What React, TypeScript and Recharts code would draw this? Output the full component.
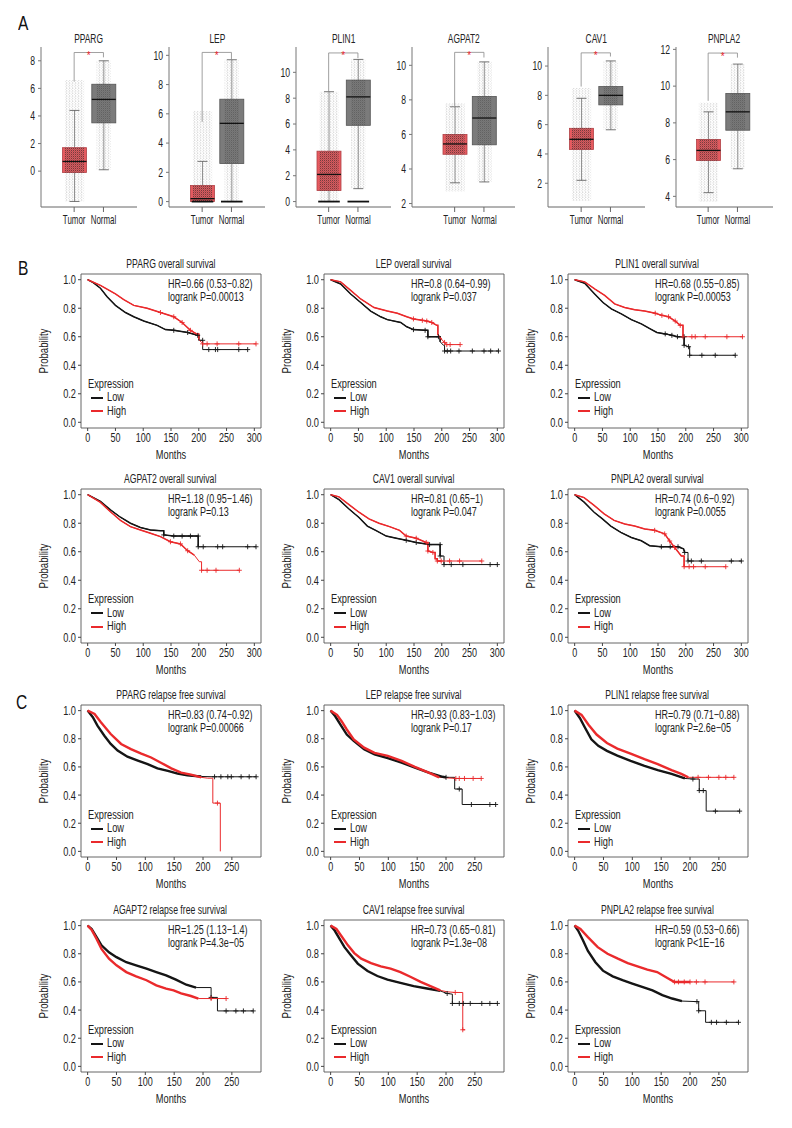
import React from 'react'
import { Bar, ComposedChart, Legend, Line, LineChart, ReferenceArea, ReferenceLine, XAxis, YAxis } from 'recharts'

const FONT = '"Liberation Sans", Arial, sans-serif'
const SX = 0.74 // horizontal squeeze to imitate the condensed face of the original

// ---------- panel A: expression box plots ----------
const boxGenes = ['PPARG', 'LEP', 'PLIN1', 'AGPAT2', 'CAV1', 'PNPLA2']
const boxGroups = ['Tumor', 'Normal']
// [min, q1, median, q3, max]
const tumorStats = [
    [-2.2, -0.1, 0.7, 1.7, 4.4],
    [0, 0, 0.2, 1.1, 2.75],
    [0, 0.85, 2.1, 3.9, 8.5],
    [3.2, 4.85, 5.45, 6.0, 7.6],
    [2.2, 4.3, 5.0, 5.75, 7.8],
    [4.2, 5.95, 6.5, 7.1, 8.6],
]
const normalStats = [
    [0.1, 3.5, 5.2, 6.3, 8.0],
    [0, 2.6, 5.35, 7.0, 9.7],
    [1.0, 5.9, 8.1, 9.4, 11.0],
    [3.25, 5.4, 6.95, 8.2, 10.2],
    [5.65, 7.35, 8.0, 8.6, 10.35],
    [5.5, 7.6, 8.6, 9.6, 11.2],
]
// spread of the jittered samples
const tumorCloud = [[-2.2, 6.6], [0, 6.2], [0, 8.5], [2.7, 7.8], [0.8, 8.5], [3.7, 9.1]]
const normalCloud = [[0.1, 8.0], [0, 9.7], [1.0, 11.0], [3.25, 10.2], [5.65, 10.35], [5.5, 11.2]]
// pile of samples sitting at zero
const zeroPile = [[false, false], [true, true], [true, true], [false, false], [false, false], [false, false]]
const boxDomains = [[-2.6, 9.0], [-0.37, 10.57], [-0.42, 11.96], [1.8, 11.06], [0.38, 11.3], [3.42, 12.13]]
const boxTicks = [[0, 2, 4, 6, 8], [0, 2, 4, 6, 8, 10], [0, 2, 4, 6, 8, 10], [2, 4, 6, 8, 10], [2, 4, 6, 8, 10], [4, 6, 8, 10, 12]]
// significance bracket: [tumor leg bottom, top, normal leg bottom]
const brackets = [[6.5, 8.6, 8.25], [5.45, 10.2, 9.75], [8.5, 11.5, 11.1], [7.65, 10.75, 10.45], [8.6, 10.9, 10.65], [9.2, 11.8, 11.55]]

// layout of the box panels: frame left, frame width, left padding
const boxFrames = [[41, 96, 18.5], [169, 96, 18.5], [296, 95, 18], [412, 103, 28], [548, 97, 18.5], [676, 97, 17.5]]
const BOX_TOP = 47
const BOX_H = 160
const BAND = 29.3

// ---------- panels B / C: Kaplan-Meier curves ----------
// [months, survival, censor mark?]
const ppargOsLow = [[0, 1], [10, 0.98], [23, 0.94], [35, 0.88], [50, 0.82], [68, 0.77], [83, 0.74], [101, 0.71], [125, 0.68], [140, 0.65], [155, 0.645, 1], [180, 0.63, 1], [198, 0.61, 1], [200, 0.61], [200, 0.575], [207, 0.575, 1], [207, 0.51], [218, 0.51, 1], [230, 0.51, 1], [234, 0.51, 1], [272, 0.51, 1], [288, 0.51, 1]]
const ppargOsHigh = [[0, 1], [23, 0.96], [50, 0.9], [65, 0.86], [83, 0.82], [107, 0.8], [131, 0.77, 1], [155, 0.74, 1], [170, 0.7, 1], [185, 0.645, 1], [196, 0.62], [200, 0.62], [200, 0.58], [205, 0.56], [207, 0.55, 1], [215, 0.55, 1], [233, 0.55, 1], [272, 0.55, 1], [303, 0.55, 1]]
const lepOsLow = [[0, 1], [18, 0.97], [36, 0.9], [54, 0.84], [72, 0.78], [90, 0.74], [102, 0.72], [126, 0.7], [137, 0.67], [149, 0.65, 1], [170, 0.645, 1], [175, 0.645], [175, 0.6, 1], [194, 0.6, 1], [197, 0.6], [197, 0.565], [203, 0.54], [205, 0.54], [205, 0.5, 1], [210, 0.5, 1], [216, 0.5, 1], [231, 0.5, 1], [255, 0.5, 1], [276, 0.5, 1], [288, 0.5, 1], [302, 0.5, 1]]
const lepOsHigh = [[0, 1], [18, 0.985], [36, 0.925], [54, 0.865], [78, 0.805], [102, 0.78], [120, 0.765], [137, 0.74], [149, 0.725, 1], [165, 0.715, 1], [173, 0.71, 1], [182, 0.7, 1], [191, 0.68], [193, 0.68], [193, 0.615], [200, 0.58], [205, 0.56, 1], [209, 0.545, 1], [215, 0.545, 1], [233, 0.545, 1]]
const plin1OsLow = [[0, 1], [18, 0.975], [36, 0.9], [51, 0.84], [66, 0.795], [84, 0.76], [102, 0.72], [120, 0.69], [136, 0.655], [148, 0.63], [163, 0.62, 1], [175, 0.61, 1], [185, 0.6, 1], [197, 0.6, 1], [197, 0.54, 1], [205, 0.53, 1], [207, 0.53], [207, 0.47, 1], [229, 0.47, 1], [253, 0.47, 1], [289, 0.47, 1]]
const plin1OsHigh = [[0, 1], [18, 0.985], [36, 0.935], [54, 0.89], [72, 0.83], [90, 0.805], [108, 0.79], [126, 0.78], [145, 0.765, 1], [157, 0.75, 1], [169, 0.74, 1], [181, 0.71, 1], [190, 0.68, 1], [195, 0.68], [195, 0.6, 1], [211, 0.6, 1], [217, 0.6, 1], [235, 0.6, 1], [274, 0.6, 1], [302, 0.6, 1]]
const agpat2OsLow = [[0, 1], [23, 0.953], [41, 0.894], [59, 0.842], [77, 0.8], [95, 0.77], [113, 0.753], [131, 0.748], [137, 0.748], [137, 0.718, 1], [155, 0.71, 1], [170, 0.71, 1], [185, 0.71, 1], [199, 0.71, 1], [199, 0.635, 1], [208, 0.635, 1], [234, 0.635, 1], [243, 0.635, 1], [288, 0.635, 1], [303, 0.635, 1]]
const agpat2OsHigh = [[0, 1], [23, 0.946], [41, 0.88], [59, 0.82], [77, 0.776], [95, 0.753], [113, 0.73], [131, 0.706], [149, 0.67, 1], [167, 0.655, 1], [180, 0.607, 1], [192, 0.576], [201, 0.53], [205, 0.53], [205, 0.47, 1], [215, 0.47, 1], [231, 0.47, 1], [273, 0.47, 1]]
const cav1OsLow = [[0, 1], [15, 0.965], [33, 0.9], [51, 0.84], [66, 0.78], [81, 0.75], [100, 0.71], [118, 0.695], [136, 0.68, 1], [154, 0.665, 1], [178, 0.65, 1], [197, 0.65, 1], [197, 0.57, 1], [204, 0.57], [204, 0.51, 1], [217, 0.51, 1], [238, 0.51, 1], [287, 0.51, 1], [300, 0.51, 1]]
const cav1OsHigh = [[0, 1], [15, 0.985], [33, 0.93], [51, 0.877], [69, 0.83], [87, 0.8], [106, 0.776], [124, 0.75], [136, 0.71, 1], [154, 0.695, 1], [172, 0.665, 1], [175, 0.665], [175, 0.605, 1], [184, 0.595, 1], [188, 0.595], [188, 0.55], [192, 0.55], [192, 0.535, 1], [199, 0.535, 1], [214, 0.535, 1], [232, 0.535, 1], [272, 0.535, 1]]
const pnpla2OsLow = [[0, 1], [17, 0.948], [35, 0.877], [50, 0.83], [65, 0.78], [83, 0.736], [102, 0.7], [120, 0.677], [135, 0.642], [156, 0.635, 1], [172, 0.635, 1], [186, 0.635, 1], [196, 0.62], [198, 0.595, 1], [204, 0.595], [204, 0.535, 1], [210, 0.535, 1], [228, 0.535, 1], [282, 0.535, 1], [300, 0.535, 1]]
const pnpla2OsHigh = [[0, 1], [17, 0.98], [35, 0.925], [53, 0.866], [71, 0.82], [90, 0.795], [108, 0.78], [126, 0.76], [144, 0.75, 1], [162, 0.725, 1], [171, 0.675, 1], [180, 0.63, 1], [192, 0.57], [197, 0.57], [197, 0.495, 1], [206, 0.495, 1], [214, 0.495, 1], [235, 0.495, 1], [272, 0.495, 1]]

const ppargRfsLow = [[0, 1], [9, 0.953], [17, 0.893], [29, 0.822], [40, 0.763], [52, 0.716], [69, 0.673], [87, 0.645], [104, 0.62], [121, 0.59], [139, 0.572], [156, 0.553], [173, 0.54], [197, 0.532], [220, 0.53, 1], [231, 0.53, 1], [243, 0.53, 1], [249, 0.53, 1], [266, 0.53, 1], [280, 0.53, 1], [292, 0.53, 1]]
const ppargRfsHigh = [[0, 1], [12, 0.976], [23, 0.917], [40, 0.834], [58, 0.763], [75, 0.727], [93, 0.695], [110, 0.667], [127, 0.63], [145, 0.59], [162, 0.56], [179, 0.545], [197, 0.526], [208, 0.52], [217, 0.52], [217, 0.343], [225, 0.343, 1], [230, 0.343], [230, 0]]
const lepRfsLow = [[0, 1], [8, 0.96], [17, 0.9], [28, 0.83], [40, 0.785], [58, 0.725], [76, 0.69], [99, 0.662], [123, 0.63], [146, 0.595], [170, 0.56], [194, 0.53], [200, 0.526, 1], [215, 0.526], [215, 0.443], [223, 0.443, 1], [228, 0.443], [228, 0.333], [244, 0.333, 1], [276, 0.333, 1], [286, 0.333, 1]]
const lepRfsHigh = [[0, 1], [11, 0.97], [19, 0.925], [28, 0.866], [40, 0.796], [58, 0.737], [76, 0.7], [99, 0.678], [123, 0.643], [146, 0.6], [170, 0.56], [188, 0.526], [217, 0.518, 1], [223, 0.518, 1], [232, 0.518, 1], [247, 0.518, 1], [261, 0.518, 1]]
const plin1RfsLow = [[0, 1], [9, 0.948], [18, 0.878], [29, 0.796], [41, 0.75], [56, 0.714], [74, 0.68], [97, 0.643], [121, 0.608], [144, 0.577], [168, 0.55], [191, 0.518], [205, 0.514, 1], [216, 0.514], [216, 0.432, 1], [223, 0.432, 1], [228, 0.432], [228, 0.286], [244, 0.286, 1], [286, 0.286, 1]]
const plin1RfsHigh = [[0, 1], [12, 0.97], [24, 0.9], [38, 0.83], [56, 0.77], [74, 0.73], [97, 0.695], [121, 0.655], [144, 0.62], [168, 0.577], [185, 0.55], [197, 0.526], [214, 0.526, 1], [232, 0.526, 1], [250, 0.526, 1], [262, 0.526, 1], [276, 0.526, 1]]
const agpat2RfsLow = [[0, 1], [7, 0.976], [15.5, 0.918], [24, 0.86], [37, 0.81], [50, 0.776], [67, 0.74], [84, 0.718], [102, 0.694], [119, 0.67], [136, 0.647], [153, 0.616], [171, 0.58], [188, 0.56], [214, 0.56], [214, 0.49, 1], [225, 0.49], [225, 0.394], [240, 0.394, 1], [257, 0.394, 1], [270, 0.394, 1], [287, 0.394, 1]]
const agpat2RfsHigh = [[0, 1], [7, 0.97], [15.5, 0.906], [24, 0.835], [37, 0.765], [50, 0.718], [67, 0.67], [84, 0.64], [102, 0.612], [119, 0.576], [136, 0.553], [149, 0.54], [162, 0.518], [179, 0.5], [192, 0.482], [214, 0.482, 1], [240, 0.482, 1]]
const cav1RfsLow = [[0, 1], [7, 0.965], [15.5, 0.906], [24, 0.847], [35.5, 0.788], [47, 0.73], [64, 0.678], [81, 0.642], [98.5, 0.616], [121, 0.593], [144, 0.57], [167, 0.553], [190, 0.536], [202, 0.518, 1], [211, 0.513], [211, 0.447, 1], [223, 0.447, 1], [230, 0.447, 1], [242, 0.447, 1], [262, 0.447, 1], [276, 0.447, 1], [289, 0.447, 1]]
const cav1RfsHigh = [[0, 1], [10, 0.976], [18, 0.93], [30, 0.86], [41, 0.805], [53, 0.765], [70, 0.734], [87, 0.71], [104, 0.694], [121, 0.67], [139, 0.635], [156, 0.6], [173, 0.57], [190, 0.54], [202, 0.53], [216, 0.525, 1], [229, 0.525], [229, 0.26, 1], [233, 0.26]]
const pnpla2RfsLow = [[0, 1], [6, 0.965], [14.6, 0.894], [23, 0.82], [36, 0.74], [49, 0.68], [66, 0.64], [83, 0.612], [100, 0.588], [117, 0.565], [135, 0.54], [152, 0.506], [169, 0.482], [186, 0.464], [212, 0.46, 1], [215, 0.46], [215, 0.395, 1], [227, 0.395], [227, 0.313], [237, 0.313, 1], [246, 0.313, 1], [263, 0.313, 1], [284, 0.313, 1]]
const pnpla2RfsHigh = [[0, 1], [10, 0.976], [23, 0.918], [40, 0.847], [57, 0.8], [75, 0.765], [92, 0.734], [109, 0.71], [126, 0.687], [143, 0.67], [160, 0.63], [173, 0.6, 1], [180, 0.6, 1], [190, 0.6, 1], [200, 0.6, 1], [211, 0.6, 1], [226, 0.6, 1], [276, 0.6, 1]]

const osTitles = ['PPARG overall survival', 'LEP overall survival', 'PLIN1 overall survival', 'AGPAT2 overall survival', 'CAV1 overall survival', 'PNPLA2 overall survival']
const osHR = ['HR=0.66 (0.53\u22120.82)', 'HR=0.8 (0.64\u22120.99)', 'HR=0.68 (0.55\u22120.85)', 'HR=1.18 (0.95\u22121.46)', 'HR=0.81 (0.65\u22121)', 'HR=0.74 (0.6\u22120.92)']
const osP = ['logrank P=0.00013', 'logrank P=0.037', 'logrank P=0.00053', 'logrank P=0.13', 'logrank P=0.047', 'logrank P=0.0055']
const osLow = [ppargOsLow, lepOsLow, plin1OsLow, agpat2OsLow, cav1OsLow, pnpla2OsLow]
const osHigh = [ppargOsHigh, lepOsHigh, plin1OsHigh, agpat2OsHigh, cav1OsHigh, pnpla2OsHigh]
const osTicks = [0, 50, 100, 150, 200, 250, 300]

const rfsTitles = ['PPARG relapse free survival', 'LEP relapse free survival', 'PLIN1 relapse free survival', 'AGAPT2 relapse free survival', 'CAV1 relapse free survival', 'PNPLA2 relapse free survival']
const rfsHR = ['HR=0.83 (0.74\u22120.92)', 'HR=0.93 (0.83\u22121.03)', 'HR=0.79 (0.71\u22120.88)', 'HR=1.25 (1.13\u22121.4)', 'HR=0.73 (0.65\u22120.81)', 'HR=0.59 (0.53\u22120.66)']
const rfsP = ['logrank P=0.00066', 'logrank P=0.17', 'logrank P=2.6e\u221205', 'logrank P=4.3e\u221205', 'logrank P=1.3e\u221208', 'logrank P<1E\u221216']
const rfsLow = [ppargRfsLow, lepRfsLow, plin1RfsLow, agpat2RfsLow, cav1RfsLow, pnpla2RfsLow]
const rfsHigh = [ppargRfsHigh, lepRfsHigh, plin1RfsHigh, agpat2RfsHigh, cav1RfsHigh, pnpla2RfsHigh]
const rfsTicks = [0, 50, 100, 150, 200, 250]
const probTicks = [0, 0.2, 0.4, 0.6, 0.8, 1.0]
const expressionGroups = ['Low', 'High']

// KM layout
const KM_W = 180
const kmCols = [80.5, 323.5, 567.5]
const kmRows = [273.5, 489, 704.5, 919.5]
const kmRowH = [154, 154, 152, 152]

const RED = '#ea2a2c'
const BLACK = '#151515'
const INK = '#222'
const groupColor: Record<string, string> = { Low: BLACK, High: RED }

const toPts = (arr: number[][]) => arr.map(([t, s, c]) => ({ t, s, c: !!c }))

// squeezed text helpers
function Narrow({ children, origin = 'left', sx = SX }: { children: React.ReactNode; origin?: string; sx?: number }) {
    return (
        <span style={{ display: 'inline-block', transform: `scaleX(${sx})`, transformOrigin: origin, whiteSpace: 'nowrap' }}>
            {children}
        </span>
    )
}

const xTick = (fontSize: number, sx = SX, fmt: (v: any) => string = String) => (props: any) => {
    const { x, y, payload } = props
    return (
        <g transform={`translate(${x},${y}) scale(${sx},1)`}>
            <text x={0} y={0} dy="0.71em" textAnchor="middle" fontSize={fontSize} fill={INK} fontFamily={FONT}>
                {fmt(payload.value)}
            </text>
        </g>
    )
}

const yTick = (fontSize: number, sx = SX, fmt: (v: any) => string = String) => (props: any) => {
    const { x, y, payload } = props
    return (
        <g transform={`translate(${x},${y}) scale(${sx},1)`}>
            <text x={0} y={0} dy="0.36em" textAnchor="end" fontSize={fontSize} fill={INK} fontFamily={FONT}>
                {fmt(payload.value)}
            </text>
        </g>
    )
}

const monthsLabel = (props: any) => {
    const { x, y, width, height } = props.viewBox
    return (
        <g transform={`translate(${x + width / 2},${y + height - 3}) scale(${SX},1)`}>
            <text textAnchor="middle" fontSize={12.5} fill={INK} fontFamily={FONT}>Months</text>
        </g>
    )
}

const probLabel = (props: any) => {
    const { x, y, height } = props.viewBox
    return (
        <g transform={`translate(${x + 6},${y + height / 2}) rotate(-90) scale(${SX},1)`}>
            <text textAnchor="middle" dy="0.36em" fontSize={13} fill={INK} fontFamily={FONT}>Probability</text>
        </g>
    )
}

function BoxShape(props: any) {
    const { x, y, width, height, payload } = props
    const [lo, q1, med, q3, hi] = payload.st
    const py = (v: number) => y + (height * (q3 - v)) / (q3 - q1)
    const cx = x + width / 2
    const cap = 5
    const cw = width * payload.spread
    const [cLo, cHi] = payload.cloud
    return (
        <g>
            <rect x={cx - cw} y={py(cHi)} width={cw * 2} height={py(cLo) - py(cHi)} fill="url(#jitLight)" />
            <line x1={cx} x2={cx} y1={py(hi)} y2={py(q3)} stroke="#777" strokeWidth={0.8} />
            <line x1={cx} x2={cx} y1={py(q1)} y2={py(lo)} stroke="#777" strokeWidth={0.8} />
            <line x1={cx - cap} x2={cx + cap} y1={py(hi)} y2={py(hi)} stroke="#555" strokeWidth={0.8} />
            <line x1={cx - cap} x2={cx + cap} y1={py(lo)} y2={py(lo)} stroke="#555" strokeWidth={0.8} />
            <rect x={x} y={y} width={width} height={height} fill={payload.fill} stroke={payload.edge} strokeWidth={0.8} />
            <rect x={cx - cw} y={y} width={cw * 2} height={height} fill="url(#jitDense)" opacity={payload.dense} />
            {payload.zero && (
                <line x1={cx - width * 0.45} x2={cx + width * 0.45} y1={py(0)} y2={py(0)} stroke="#111" strokeWidth={1.8} />
            )}
            <line x1={x} x2={x + width} y1={py(med)} y2={py(med)} stroke="#111" strokeWidth={1.3} />
        </g>
    )
}

function BoxPanel({ i }: { i: number }) {
    const [fl, fw, padL] = boxFrames[i]
    const data = boxGroups.map((g, k) => {
        const st = k === 0 ? tumorStats[i] : normalStats[i]
        return {
            name: g,
            box: [st[1], st[3]],
            st,
            cloud: k === 0 ? tumorCloud[i] : normalCloud[i],
            zero: zeroPile[i][k],
            fill: k === 0 ? '#e65a5f' : '#7b7b7b',
            edge: k === 0 ? '#b04045' : '#555',
            dense: k === 0 ? 0.8 : 0.4,
            spread: k === 0 ? 0.4 : 0.3,
        }
    })
    const [b0, b1, b2] = brackets[i]
    const TOP_M = 17
    const YW = 26
    return (
        <div style={{ position: 'absolute', left: fl - YW, top: BOX_TOP - TOP_M }}>
            <div style={{ position: 'absolute', left: YW, width: fw, top: 2, lineHeight: '14px', fontSize: 12, textAlign: 'center', color: INK }}>
                <Narrow origin="center" sx={0.7}>{boxGenes[i]}</Narrow>
            </div>
            <ComposedChart width={YW + fw + 1} height={TOP_M + BOX_H + 28} data={data} margin={{ top: TOP_M, right: 1, bottom: 0, left: 0 }}>
                <XAxis
                    dataKey="name"
                    type="category"
                    padding={{ left: padL, right: fw - padL - 2 * BAND }}
                    tickSize={5}
                    tickMargin={3}
                    stroke="#666"
                    tick={xTick(12, 0.66)}
                    interval={0}
                    height={28}
                />
                <XAxis xAxisId="top" orientation="top" dataKey="name" height={0} tick={false} tickLine={false} stroke="#777" />
                <YAxis
                    type="number"
                    domain={boxDomains[i]}
                    ticks={boxTicks[i]}
                    allowDataOverflow
                    width={YW}
                    tickSize={3}
                    tickMargin={3}
                    stroke="#777"
                    tick={yTick(12, 0.72)}
                    interval={0}
                />
                <YAxis yAxisId="r" orientation="right" width={0} tick={false} tickLine={false} stroke="#777" />
                <Bar dataKey="box" barSize={24} shape={BoxShape} isAnimationActive={false} />
                <ReferenceLine segment={[{ x: 'Tumor', y: b0 }, { x: 'Tumor', y: b1 }]} stroke="#888" strokeWidth={0.8} ifOverflow="visible" />
                <ReferenceLine segment={[{ x: 'Normal', y: b2 }, { x: 'Normal', y: b1 }]} stroke="#888" strokeWidth={0.8} ifOverflow="visible" />
                <ReferenceLine
                    segment={[{ x: 'Tumor', y: b1 }, { x: 'Normal', y: b1 }]}
                    stroke="#888"
                    strokeWidth={0.8}
                    ifOverflow="visible"
                    label={{ value: '*', position: 'center', fill: '#e8222a', fontSize: 10, dy: 3 }}
                />
            </ComposedChart>
        </div>
    )
}

function crossDot(color: string) {
    return (props: any) => {
        const { cx, cy, payload, index } = props
        if (!payload || !payload.c || cx == null || cy == null) return <g key={index} />
        return <path key={index} d={`M${cx - 2.5},${cy}h5M${cx},${cy - 2.5}v5`} stroke={color} strokeWidth={0.9} fill="none" />
    }
}

function kmLegend() {
    return (
        <div style={{ fontFamily: FONT, fontSize: 12.5, color: INK, lineHeight: '13.5px', whiteSpace: 'nowrap' }}>
            <div>
                <Narrow>Expression</Narrow>
            </div>
            {expressionGroups.map((name) => (
                <div key={name} style={{ display: 'flex', alignItems: 'center' }}>
                    <span style={{ display: 'inline-block', width: 12, height: 2, background: groupColor[name], marginLeft: 3, marginRight: 4 }} />
                    <Narrow>{name}</Narrow>
                </div>
            ))}
        </div>
    )
}

function KMPanel(props: {
    title: string
    hr: string
    p: string
    low: number[][]
    high: number[][]
    left: number
    top: number
    fh: number
    domain: number[]
    ticks: number[]
    thick: number
}) {
    const { title, hr, p, low, high, left, top, fh, domain, ticks, thick } = props
    const YW = 44
    const TOP_M = 22
    const lowPts = toPts(low)
    const highPts = toPts(high)
    const DENSE = 200
    return (
        <div style={{ position: 'absolute', left: left - YW, top: top - TOP_M, width: YW + KM_W + 4 }}>
            <div style={{ position: 'absolute', left: YW, width: KM_W, top: 5, lineHeight: '15px', fontSize: 12, textAlign: 'center', color: INK }}>
                <Narrow origin="center" sx={0.72}>{title}</Narrow>
            </div>
            <LineChart width={YW + KM_W + 4} height={TOP_M + fh + 34} margin={{ top: TOP_M, right: 4, bottom: 0, left: 0 }}>
                <XAxis
                    type="number"
                    dataKey="t"
                    domain={domain}
                    ticks={ticks}
                    interval={0}
                    allowDataOverflow
                    axisLine={false}
                    tickSize={3}
                    tickMargin={2}
                    stroke="#444"
                    tick={xTick(12.5, 0.72)}
                    height={34}
                    label={monthsLabel}
                />
                <YAxis
                    type="number"
                    domain={[-0.04, 1.04]}
                    ticks={probTicks}
                    interval={0}
                    allowDataOverflow
                    axisLine={false}
                    tickSize={3}
                    tickMargin={2}
                    stroke="#444"
                    tick={yTick(12.5, 0.74, (v: number) => v.toFixed(1))}
                    width={YW}
                    label={probLabel}
                />
                <ReferenceArea x1={domain[0]} x2={domain[1]} y1={-0.04} y2={1.04} fill="none" stroke="#555" strokeWidth={0.9} ifOverflow="visible" />
                <Line data={lowPts} dataKey="s" name="Low" type="linear" stroke={BLACK} strokeWidth={1} dot={crossDot(BLACK)} activeDot={false} isAnimationActive={false} />
                <Line data={highPts} dataKey="s" name="High" type="linear" stroke={RED} strokeWidth={1} dot={crossDot(RED)} activeDot={false} isAnimationActive={false} />
                <Line data={lowPts.filter((d) => d.t <= DENSE)} dataKey="s" name="lowDense" legendType="none" type="linear" stroke={BLACK} strokeWidth={thick} dot={false} activeDot={false} isAnimationActive={false} />
                <Line data={highPts.filter((d) => d.t <= DENSE)} dataKey="s" name="highDense" legendType="none" type="linear" stroke={RED} strokeWidth={thick} dot={false} activeDot={false} isAnimationActive={false} />
                <Legend
                    layout="horizontal"
                    verticalAlign="middle"
                    align="center"
                    content={kmLegend}
                    wrapperStyle={{ left: YW + 7, top: TOP_M + 104, width: 'auto', bottom: 'auto' }}
                />
            </LineChart>
            <div style={{ position: 'absolute', left: YW + 87, top: TOP_M + 4, fontSize: 12.5, lineHeight: '13px', color: INK }}>
                <div>
                    <Narrow sx={0.72}>{hr}</Narrow>
                </div>
                <div>
                    <Narrow sx={0.72}>{p}</Narrow>
                </div>
            </div>
        </div>
    )
}

export default function App() {
    const letter = { position: 'absolute' as const, fontSize: 21, color: '#111', lineHeight: '22px' }
    return (
        <div style={{ position: 'relative', width: 792, height: 1128, background: '#fff', fontFamily: FONT, overflow: 'hidden' }}>
            <style>{'body{margin:0}'}</style>
            <svg width={0} height={0} style={{ position: 'absolute' }}>
                <defs>
                    <pattern id="jitLight" width={3} height={2.6} patternUnits="userSpaceOnUse">
                        <circle cx={0.8} cy={0.8} r={0.45} fill="#8a8a8a" />
                        <circle cx={2.3} cy={2.0} r={0.35} fill="#aaa" />
                    </pattern>
                    <pattern id="jitDense" width={2} height={2} patternUnits="userSpaceOnUse">
                        <circle cx={0.6} cy={0.6} r={0.55} fill="#2a2a2a" />
                        <circle cx={1.6} cy={1.5} r={0.4} fill="#444" />
                    </pattern>
                </defs>
            </svg>

            <div style={{ ...letter, left: 18, top: 12 }}>
                <Narrow>A</Narrow>
            </div>
            <div style={{ ...letter, left: 18, top: 257 }}>
                <Narrow>B</Narrow>
            </div>
            <div style={{ ...letter, left: 16, top: 691 }}>
                <Narrow>C</Narrow>
            </div>

            {boxGenes.map((_, i) => (
                <BoxPanel key={`box-${i}`} i={i} />
            ))}

            {osTitles.map((title, i) => (
                <KMPanel
                    key={`os-${i}`}
                    title={title}
                    hr={osHR[i]}
                    p={osP[i]}
                    low={osLow[i]}
                    high={osHigh[i]}
                    left={kmCols[i % 3]}
                    top={kmRows[Math.floor(i / 3)]}
                    fh={kmRowH[Math.floor(i / 3)]}
                    domain={[-12, 312]}
                    ticks={osTicks}
                    thick={1.5}
                />
            ))}

            {rfsTitles.map((title, i) => (
                <KMPanel
                    key={`rfs-${i}`}
                    title={title}
                    hr={rfsHR[i]}
                    p={rfsP[i]}
                    low={rfsLow[i]}
                    high={rfsHigh[i]}
                    left={kmCols[i % 3]}
                    top={kmRows[2 + Math.floor(i / 3)]}
                    fh={kmRowH[2 + Math.floor(i / 3)]}
                    domain={[-11.5, 300.5]}
                    ticks={rfsTicks}
                    thick={2.4}
                />
            ))}
        </div>
    )
}
